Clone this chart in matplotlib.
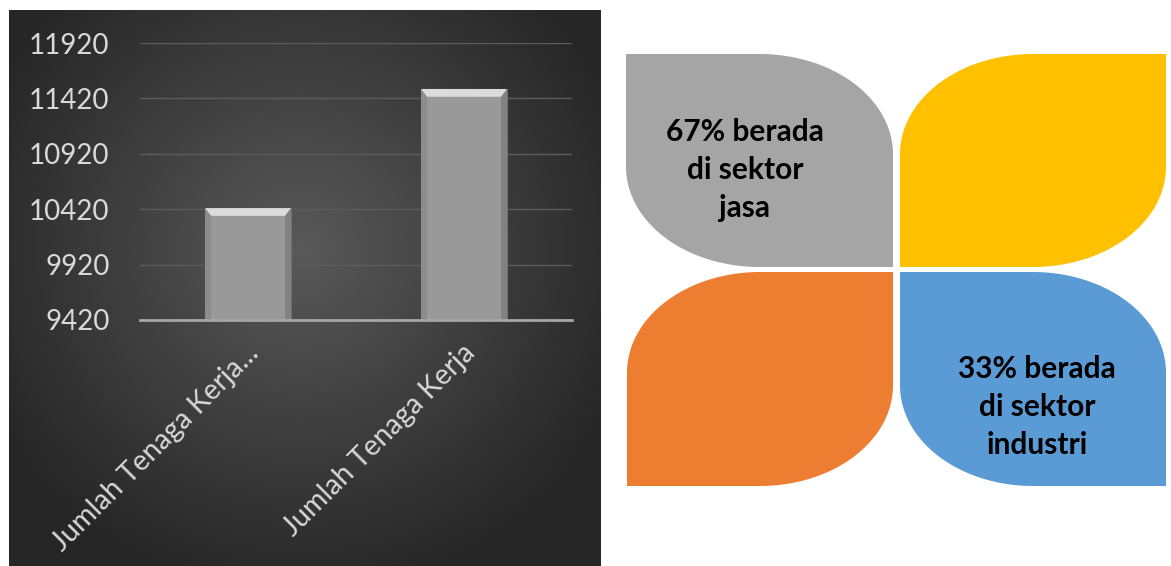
import numpy as np
import matplotlib
matplotlib.use("Agg")
from matplotlib import pyplot as plt
from matplotlib.patches import Polygon
from matplotlib.transforms import ScaledTranslation

# bar chart data
categories = ["Jumlah Tenaga Kerja...", "Jumlah Tenaga Kerja"]
values = [10430, 11505]
yticks = [9420, 9920, 10420, 10920, 11420, 11920]

# petal graphic texts (gray, yellow, orange, blue)
petal_texts = ["67% berada\ndi sektor\njasa", "", "", "33% berada\ndi sektor\nindustri"]
petal_colors = ["#a5a5a5", "#ffc000", "#ed7d31", "#5b9bd5"]

W, H = 1171, 566
fig = plt.figure(figsize=(W / 100, H / 100), dpi=100)
fig.patch.set_facecolor("white")

# full-figure overlay in pixel coords (y down)
bg = fig.add_axes([0, 0, 1, 1], zorder=0)
bg.set_xlim(0, W)
bg.set_ylim(H, 0)
bg.axis("off")

# radial gradient behind the bar chart
gx, gy = np.meshgrid(np.linspace(9, 601, 300), np.linspace(10, 566, 300))
r = np.sqrt(((gx - 300) / 330) ** 2 + ((gy - 250) / 330) ** 2)
shade = np.clip(0.35 - 0.19 * r, 0.15, 0.35)
bg.imshow(np.dstack([shade] * 3), extent=(9, 601, 566, 10), aspect="auto", interpolation="bilinear")


def petal(x0, y0, x1, y1, round_corners, fx=0.5, fy=0.47):
    # rectangle with big elliptical corners at the listed corners (tl, tr, br, bl)
    rx = (x1 - x0) * fx
    ry = (y1 - y0) * fy
    pts = []
    # corner centers and sweep for tl, tr, br, bl (y grows downward)
    specs = {
        "tl": ((x0 + rx, y0 + ry), np.pi, 3 * np.pi / 2, (x0, y0)),
        "tr": ((x1 - rx, y0 + ry), 3 * np.pi / 2, 2 * np.pi, (x1, y0)),
        "br": ((x1 - rx, y1 - ry), 0, np.pi / 2, (x1, y1)),
        "bl": ((x0 + rx, y1 - ry), np.pi / 2, np.pi, (x0, y1)),
    }
    for c in ["tl", "tr", "br", "bl"]:
        (cx, cy), a0, a1, sq = specs[c]
        if c in round_corners:
            a = np.linspace(a0, a1, 40)
            pts += list(zip(cx + rx * np.cos(a), cy + ry * np.sin(a)))
        else:
            pts.append(sq)
    return np.array(pts)


boxes = [(626, 54, 893, 267), (900, 54, 1166, 267), (627, 272, 893, 486), (900, 272, 1166, 486)]
rounds = [("tr", "bl"), ("tl", "br"), ("tl", "br"), ("tr", "bl")]
text_pos = [(745, 170), None, None, (1037, 407)]
for box, rc, col, txt, tp in zip(boxes, rounds, petal_colors, petal_texts, text_pos):
    bg.add_patch(Polygon(petal(*box, rc), closed=True, facecolor=col, edgecolor="none"))
    if txt:
        bg.text(tp[0], tp[1], txt, ha="center", va="center", fontsize=21.5, fontweight="bold",
                family="Lato", color="black", linespacing=1.45)

# bar chart
ax = fig.add_axes([140 / W, 1 - 320 / H, 432 / W, 277 / H], zorder=1)
ax.set_facecolor("none")
x = np.arange(len(categories))
bars = ax.bar(x, values, width=0.4, color="#999999", edgecolor="#6e6e6e", linewidth=0.8, zorder=3)

# bevel highlight on top of each bar
for b in bars:
    bx, bw, bh = b.get_x(), b.get_width(), b.get_height()
    dy = 70
    dx = bw * 0.07
    ax.add_patch(Polygon([(bx, bh), (bx + bw, bh), (bx + bw - dx, bh - dy), (bx + dx, bh - dy)],
                         closed=True, facecolor="#dcdcdc", edgecolor="none", zorder=4))
    ax.add_patch(Polygon([(bx + bw, bh), (bx + bw, yticks[0]), (bx + bw - dx, yticks[0]), (bx + bw - dx, bh - dy)],
                         closed=True, facecolor="#828282", edgecolor="none", zorder=4))
    ax.add_patch(Polygon([(bx, bh), (bx, yticks[0]), (bx + dx, yticks[0]), (bx + dx, bh - dy)],
                         closed=True, facecolor="#8c8c8c", edgecolor="none", zorder=4))

ax.set_xlim(-0.5, 1.5)
ax.set_ylim(yticks[0], yticks[-1])
ax.set_yticks(yticks)
ax.set_yticklabels([str(v) for v in yticks], fontsize=20, family="Lato", color="#d9d9d9")
ax.yaxis.grid(True, color="#5c5c5c", linewidth=1, zorder=0)
ax.set_axisbelow(True)
for s in ["top", "right", "left"]:
    ax.spines[s].set_visible(False)
ax.spines["bottom"].set_color("#a6a6a6")
ax.spines["bottom"].set_linewidth(2)
ax.spines["bottom"].set_zorder(5)
ax.tick_params(axis="both", length=0)
ax.tick_params(axis="y", pad=22)

ax.set_xticks(x)
ax.set_xticklabels(categories, rotation=45, ha="right", va="center", rotation_mode="anchor",
                   fontsize=20.5, family="Lato", color="#d9d9d9")
off = ScaledTranslation(7 / 100, -24 / 100, fig.dpi_scale_trans)
for lab in ax.get_xticklabels():
    lab.set_transform(lab.get_transform() + off)

fig.savefig("out.png", dpi=100)
